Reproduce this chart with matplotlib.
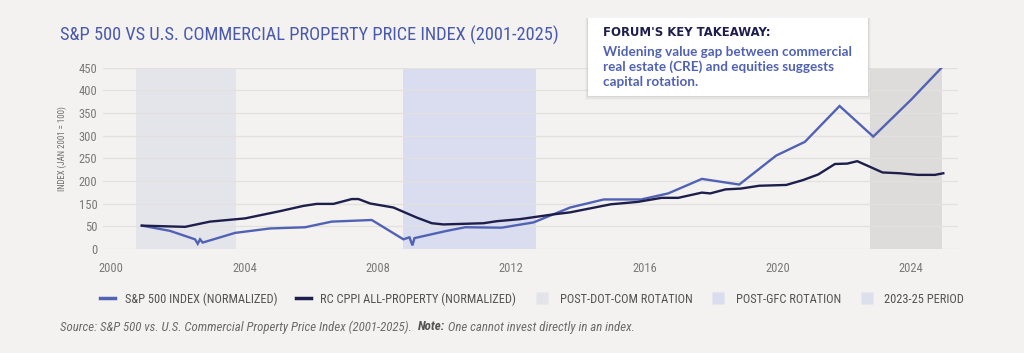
import matplotlib
matplotlib.use("Agg")
import matplotlib.pyplot as plt
from matplotlib.lines import Line2D
from matplotlib.patches import FancyBboxPatch
import numpy as np

# ---- data ----
sp_years = [2000.93, 2001.77, 2002.52, 2002.60, 2002.67, 2002.75, 2003.72, 2004.77,
            2005.82, 2006.62, 2007.82, 2008.77, 2008.95, 2009.04, 2009.10, 2010.07,
            2010.62, 2011.72, 2012.67, 2013.77, 2014.78, 2015.90, 2016.71, 2017.72,
            2018.84, 2019.95, 2020.81, 2021.85, 2022.86, 2024.00, 2024.91]
sp_vals = [58, 45, 24, 13, 24, 16, 40, 51,
           54, 68, 72, 24, 29, 9, 27, 45,
           54, 53, 66, 103, 123, 123, 138, 174,
           160, 232, 266, 355, 279, 371, 450]

cppi_years = [2000.92, 2002.22, 2002.97, 2004.02, 2005.07, 2005.77, 2006.17, 2006.67,
              2007.22, 2007.42, 2007.77, 2008.47, 2009.17, 2009.62, 2009.97, 2011.17,
              2011.57, 2012.25, 2013.27, 2013.77, 2014.99, 2015.80, 2016.51, 2017.01,
              2017.72, 2017.97, 2018.43, 2018.89, 2019.44, 2020.25, 2020.75, 2021.21,
              2021.71, 2022.08, 2022.38, 2023.14, 2023.65, 2024.20, 2024.71, 2024.96]
cppi_vals = [58, 55, 68, 76, 94, 107, 112, 112,
             124, 124, 113, 103, 78, 64, 61, 64,
             69, 74, 86, 91, 111, 117, 127, 127,
             140, 138, 148, 150, 157, 159, 171, 185,
             211, 212, 218, 190, 188, 184, 184, 188]

periods = [("POST-DOT-COM ROTATION", 2000.75, 2003.75, "#e4e4eb"),
           ("POST-GFC ROTATION", 2008.75, 2012.75, "#d9ddef"),
           ("2023-25 PERIOD", 2022.75, 2024.92, "#dddcda")]
legend_period_colors = ["#e3e3ea", "#d9ddef", "#dcdfec"]

x_ticks = [2000, 2004, 2008, 2012, 2016, 2020, 2024]
y_tick_labels = ["0", "50", "150", "200", "250", "300", "350", "400", "450"]

title = "S&P 500 VS U.S. COMMERCIAL PROPERTY PRICE INDEX (2001-2025)"
box_head = "FORUM'S KEY TAKEAWAY:"
box_body = ["Widening value gap between commercial",
            "real estate (CRE) and equities suggests",
            "capital rotation."]

# ---- style ----
BG = "#f3f2f0"
BLUE = "#5162b4"
NAVY = "#1e1e4c"
GRAY = "#7b7976"
NARROW = ["Roboto Condensed", "Roboto", "DejaVu Sans"]

fig = plt.figure(figsize=(10.24, 3.53), dpi=100, facecolor=BG)
ax = fig.add_axes([0.1006, 0.2946, 0.8349, 0.5136], facecolor=BG)

for name, x0, x1, c in periods:
    ax.axvspan(x0, x1, color=c, lw=0, zorder=0)

ax.plot(sp_years, sp_vals, color=BLUE, lw=1.7, zorder=3, solid_joinstyle="miter")
ax.plot(cppi_years, cppi_vals, color=NAVY, lw=1.7, zorder=3)

ax.set_xlim(1999.76, 2025.4)
ax.set_ylim(0, 450)
ax.set_xticks(x_ticks)
ax.set_xticklabels([str(t) for t in x_ticks], family=NARROW, fontsize=9, color=GRAY)
ax.set_yticks(np.linspace(0, 450, len(y_tick_labels)))
ax.set_yticklabels(y_tick_labels, family=NARROW, fontsize=9, color=GRAY)
ax.tick_params(length=0, pad=4)
ax.tick_params(axis="x", pad=9)
ax.grid(axis="y", color="#e2e1de", lw=0.9, zorder=1)
ax.set_axisbelow(True)
for s in ax.spines.values():
    s.set_visible(False)
ax.set_ylabel("INDEX (JAN 2001 = 100)", family=NARROW, fontsize=6.3, color="#6f6d6a")
ax.yaxis.set_label_coords(-0.042, 0.553)

fig.text(0.0586, 0.900, title, family=NARROW, fontsize=13.2, color="#4a59ad", va="center")

# key takeaway box with soft shadow
bx0, by0, bw, bh = 588 / 1024, 1 - 96 / 353, 280 / 1024, 78 / 353
for i, a in enumerate([0.05, 0.035, 0.02]):
    sh = FancyBboxPatch((bx0 - 0.001 * (i + 1), by0 - 0.004 * (i + 1)), bw + 0.002 * (i + 1), bh + 0.004 * (i + 1),
                        boxstyle="square,pad=0", transform=fig.transFigure, fc="black", ec="none",
                        alpha=a, zorder=5)
    fig.patches.append(sh)
box = FancyBboxPatch((bx0, by0), bw, bh, boxstyle="square,pad=0", transform=fig.transFigure,
                     fc="white", ec="none", zorder=6)
fig.patches.append(box)
fig.text(603 / 1024, 1 - 32 / 353, box_head, fontsize=8.4, fontweight="bold", color=NAVY,
         va="center", zorder=7, family="DejaVu Sans")
for i, line in enumerate(box_body):
    fig.text(603 / 1024, 1 - (52 + 15 * i) / 353, line, fontsize=9.7, fontweight="bold",
             color=BLUE, va="center", zorder=7, family="Lato")

# legend
handles = [Line2D([], [], color=BLUE, lw=2.5),
           Line2D([], [], color=NAVY, lw=2.5)]
labels = ["S&P 500 INDEX (NORMALIZED)", "RC CPPI ALL-PROPERTY (NORMALIZED)"]
for (name, x0, x1, c), lc in zip(periods, legend_period_colors):
    handles.append(Line2D([], [], ls="none", marker="s", ms=8, mfc=lc, mec="none"))
    labels.append(name)
leg = fig.legend(handles, labels, loc="center", bbox_to_anchor=(532 / 1024, 1 - 299 / 353), ncol=5,
                 frameon=False, handlelength=1.2, handletextpad=0.8, columnspacing=1.5,
                 prop={"family": NARROW, "size": 8.9})
for t in leg.get_texts():
    t.set_color("#55534f")

# source line (regular italic + bold italic "Note:")
src_y = 1 - 327 / 353
t1 = fig.text(60 / 1024, src_y, "Source: S&P 500 vs. U.S. Commercial Property Price Index (2001-2025).  ",
              family=NARROW, style="italic", fontsize=9.3, color="#6d6b68", va="center")
fig.canvas.draw()
r = fig.canvas.get_renderer()
bb = t1.get_window_extent(r).transformed(fig.transFigure.inverted())
t2 = fig.text(bb.x1, src_y, "Note:", family=NARROW, style="italic", fontweight="bold",
              fontsize=9.3, color="#55534f", va="center")
bb2 = t2.get_window_extent(r).transformed(fig.transFigure.inverted())
fig.text(bb2.x1, src_y, " One cannot invest directly in an index.", family=NARROW, style="italic",
         fontsize=9.3, color="#6d6b68", va="center")

fig.savefig("out.png", dpi=100, facecolor=BG)
